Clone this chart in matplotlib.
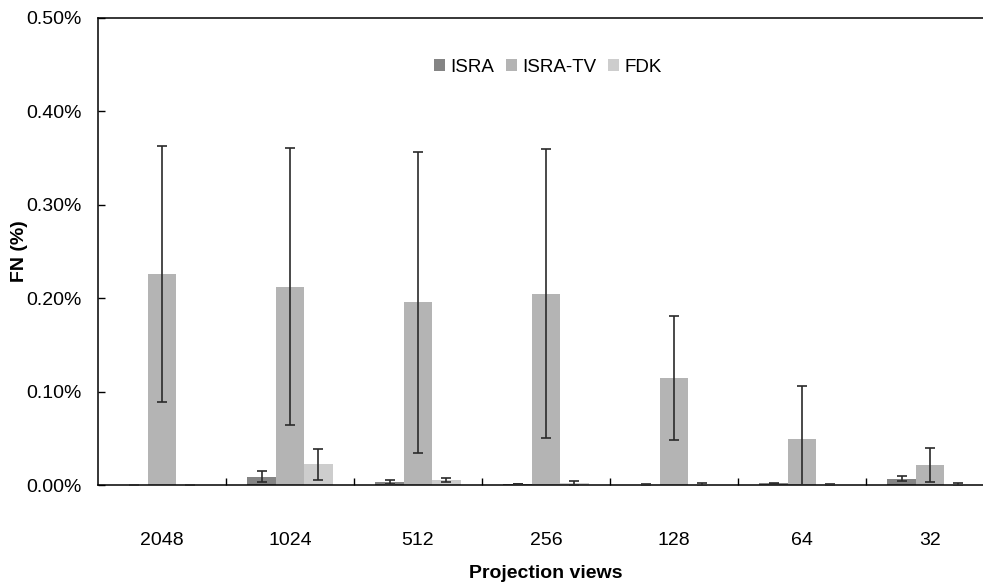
import numpy as np
import matplotlib.pyplot as plt
from matplotlib.ticker import FuncFormatter, FixedLocator

plt.rcParams['font.family'] = ['Liberation Sans', 'DejaVu Sans']

# Projection views and FN values (%)
views = ['2048', '1024', '512', '256', '128', '64', '32']
isra = [0.0, 0.0089, 0.0030, 0.0010, 0.0005, 0.0018, 0.0067]
isra_err = [0.0, 0.0060, 0.0020, 0.0003, 0.0003, 0.0008, 0.0028]
isra_tv = [0.2257, 0.2125, 0.1956, 0.2048, 0.1149, 0.0490, 0.0214]
isra_tv_err = [0.1370, 0.1480, 0.1610, 0.1550, 0.0664, 0.0567, 0.0186]
fdk = [0.0, 0.0221, 0.0054, 0.0020, 0.0005, 0.0005, 0.0003]
fdk_err = [0.0, 0.0165, 0.0025, 0.0020, 0.0015, 0.0010, 0.0018]

W, H = 983, 586
fig = plt.figure(figsize=(W / 100, H / 100), dpi=100)
# plot area runs past the right edge of the image, like the original crop
ax = fig.add_axes([98 / W, 1 - 485 / H, 896 / W, 467 / H])

x = np.arange(len(views))
bw = 0.222
series = [(isra, isra_err, '#848484', 'ISRA'),
          (isra_tv, isra_tv_err, '#b4b4b4', 'ISRA-TV'),
          (fdk, fdk_err, '#cdcdcd', 'FDK')]
for i, (vals, errs, col, lab) in enumerate(series):
    pos = x + (i - 1) * bw
    ax.bar(pos, vals, width=bw, color=col, label=lab, zorder=2)
    ax.errorbar(pos, vals, yerr=errs, fmt='none', ecolor='#2a2a2a',
                elinewidth=1.2, capsize=3.5, capthick=1.2, zorder=3)

ax.set_xlim(-0.5, len(views) - 0.5)
ax.set_ylim(0, 0.5)
ax.set_yticks(np.arange(0, 0.51, 0.1))
ax.yaxis.set_major_formatter(FuncFormatter(lambda v, p: f'{v:.2f}%'))
ax.tick_params(axis='y', direction='in', length=5, width=1, pad=12,
               labelsize=14, colors='black')

ax.set_xticks(x)
ax.set_xticklabels(views)
ax.xaxis.set_minor_locator(FixedLocator(np.arange(0.5, len(views) - 0.5, 1)))
ax.tick_params(axis='x', which='major', length=0, pad=34, labelsize=14)
ax.tick_params(axis='x', which='minor', direction='in', length=5, width=1)

for s in ['left', 'bottom', 'top', 'right']:
    ax.spines[s].set_linewidth(1.1)
    ax.spines[s].set_color('black')

fig.text(19 / W, 1 - 251 / H, 'FN (%)', fontsize=14, fontweight='bold',
         rotation=90, ha='center', va='center')
fig.text(546 / W, 1 - 573 / H, 'Projection views', fontsize=14,
         fontweight='bold', ha='center', va='center')

fig.legend(loc='center', bbox_to_anchor=(548 / W, 1 - 67 / H), ncol=3,
           frameon=False, fontsize=13.5, handlelength=0.6, handleheight=0.6,
           handletextpad=0.3, columnspacing=0.6)

fig.savefig('out.png', dpi=100)
